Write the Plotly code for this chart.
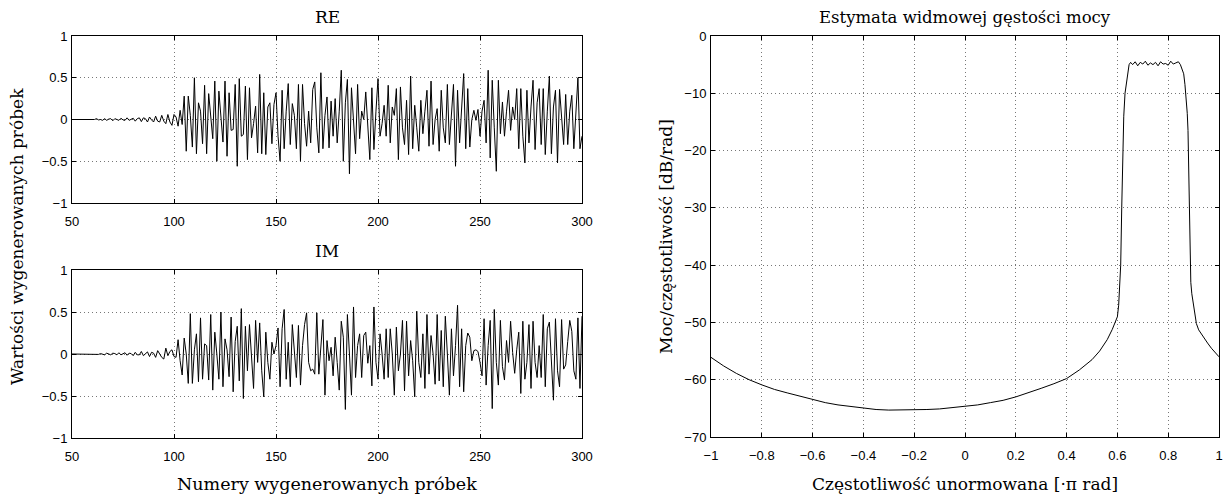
import plotly.graph_objects as go

# ---------------- data ----------------
sample_start = 50
re_values = [
    0, 0, 0, 0, 0, 0, 0, 0, 0, 0,
    0, 0, 0.01, -0.005, 0, -0.01, 0.01, -0.01, 0.005, 0.01,
    -0.015, 0.01, 0, -0.01, 0.015, -0.005, -0.01, 0.02, -0.01, 0,
    0.015, -0.02, 0.01, 0.02, -0.025, 0.02, 0.01, -0.03, 0.03, -0.005,
    -0.03, 0.04, -0.02, -0.03, 0.05, -0.02, -0.05, 0.06, -0.03, -0.07,
    0.06, 0.03, -0.08, 0.11, -0.06, 0.28, -0.38, 0.28, 0.05, -0.33,
    0.5, -0.41, 0.2, 0.1, -0.29, 0.41, -0.41, 0.31, 0.0, -0.23,
    0.46, -0.5, 0.34, 0.02, -0.27, 0.46, -0.44, 0.32, -0.13, -0.12,
    0.42, -0.56, 0.49, -0.2, -0.18, 0.4, -0.48, 0.38, -0.22, -0.05,
    0.16, -0.4, 0.54, -0.41, 0.32, -0.42, 0.15, 0.2, -0.29, 0.18,
    0.32, -0.2, -0.5, 0.35, -0.35, 0.1, 0.43, -0.3, 0.19, 0.05,
    -0.35, 0.42, -0.5, 0.42, -0.05, -0.32, 0.1, -0.28, 0.36, 0.45,
    -0.1, -0.4, 0.56, -0.35, 0.05, 0.27, -0.34, 0.22, -0.2, 0.25,
    -0.28, 0.1, 0.59, -0.5, 0.2, 0.48, -0.65, 0.38, 0.0, -0.41,
    0.42, -0.23, 0.1, 0.0, 0.33, -0.1, -0.48, 0.38, -0.36, 0.1,
    0.49, -0.2, -0.05, 0.17, -0.2, 0.41, -0.28, 0.15, 0.05, 0.37,
    -0.48, 0.39, -0.1, -0.3, 0.23, -0.42, 0.52, -0.35, 0.17, -0.1,
    -0.38, 0.23, -0.17, 0.1, 0.35, -0.32, 0.46, -0.3, 0.0, 0.13,
    -0.38, 0.35, -0.1, -0.28, 0.42, -0.3, 0.1, 0.42, -0.56, 0.35,
    -0.28, 0.2, 0.55, -0.35, 0.37, -0.33, 0.0, 0.11, -0.01, 0.12,
    -0.2, 0.1, 0.23, -0.28, 0.59, -0.46, 0.47, -0.1, -0.62, 0.47,
    -0.17, 0.21, -0.2, 0.1, 0.35, -0.13, 0.15, 0.0, 0.37, -0.35,
    0.37, -0.2, -0.52, 0.35, -0.28, 0.15, 0.47, -0.36, 0.2, 0.37,
    -0.3, 0.37, -0.42, 0.1, 0.52, -0.41, 0.15, 0.35, -0.52, 0.36,
    0.0, -0.3, 0.3, -0.3, 0.1, 0.29, -0.35, 0.1, 0.5, -0.35,
    -0.2,
]
im_values = [
    0, 0, 0, 0, 0, 0, 0, 0, 0, 0,
    0, 0, 0, -0.005, 0.005, 0, -0.01, 0.01, 0, -0.01,
    0.01, 0.005, -0.01, 0.015, -0.01, 0, 0.015, -0.015, 0.01, 0.005,
    -0.02, 0.02, -0.01, -0.01, 0.03, -0.02, 0.005, 0.025, -0.03, 0.02,
    0.01, -0.04, 0.04, 0, -0.04, -0.06, 0.07, -0.02, 0.03, 0.05,
    -0.03, -0.04, 0.17, -0.08, -0.25, 0.19, 0.0, -0.35, 0.48, -0.35,
    0.05, 0.24, -0.33, 0.43, -0.3, 0.12, 0.1, -0.31, 0.47, -0.43,
    0.26, 0.0, -0.3, 0.5, -0.39, 0.18, 0.05, -0.27, 0.44, -0.45,
    0.15, 0.33, -0.32, 0.54, -0.53, 0.33, -0.2, 0.35, 0.0, -0.41,
    0.4, -0.1, 0.37, -0.2, -0.51, 0.26, -0.1, -0.3, 0.14, 0.0,
    0.1, 0.31, -0.39, 0.3, 0.53, -0.3, 0.14, -0.39, 0.35, 0.0,
    -0.28, 0.34, -0.37, 0.1, 0.35, 0.49, -0.1, -0.2, -0.18, -0.24,
    0.49, -0.24, 0.1, 0.41, -0.49, 0.16, -0.08, 0.08, -0.26, 0.2,
    -0.1, -0.43, 0.39, 0.2, -0.66, 0.47, 0.0, -0.49, 0.56, -0.28,
    0.1, 0.24, -0.28, 0.22, 0.26, -0.11, 0.1, -0.38, 0.56, -0.1,
    -0.3, 0.24, 0.0, -0.3, 0.3, -0.28, 0.3, 0.0, -0.49, 0.32,
    -0.2, 0.0, 0.4, -0.44, 0.39, -0.26, 0.16, -0.08, -0.51, 0.51,
    -0.1, -0.28, 0.24, -0.41, 0.47, -0.24, 0.22, 0.0, -0.36, 0.47,
    -0.32, 0.28, -0.39, 0.45, 0.0, -0.49, 0.3, -0.26, 0.1, 0.58,
    -0.39, 0.3, -0.45, 0.1, 0.25, 0.2, -0.08, 0.04, 0.05, 0.03,
    -0.1, -0.26, 0.42, -0.37, 0.1, 0.4, -0.65, 0.53, -0.1, -0.37,
    0.4, -0.15, -0.31, 0.16, -0.1, 0.39, 0.02, -0.23, 0.05, 0.26,
    -0.47, 0.39, -0.3, -0.1, 0.35, -0.41, 0.39, -0.1, -0.28, 0.1,
    -0.28, 0.47, -0.39, 0.3, 0.38, -0.1, -0.55, 0.42, -0.2, -0.39,
    0.41, -0.18, -0.13, 0.15, 0.4, 0.27, -0.2, -0.3, 0.43, -0.41,
    0.45,
]
samples = list(range(sample_start, sample_start + len(re_values)))

psd_freq = [
    -1.0, -0.95, -0.9, -0.85, -0.8, -0.75, -0.7, -0.65, -0.6, -0.55,
    -0.5, -0.45, -0.4, -0.35, -0.3, -0.25, -0.2, -0.15, -0.1, -0.05,
    0.0, 0.05, 0.1, 0.15, 0.2, 0.25, 0.3, 0.35, 0.4, 0.45,
    0.5, 0.53, 0.56, 0.58, 0.59, 0.6, 0.605, 0.609, 0.613, 0.617,
    0.621, 0.625, 0.63, 0.638, 0.646, 0.652,
    0.66, 0.67, 0.68, 0.69, 0.70, 0.71, 0.72, 0.73, 0.74, 0.75,
    0.76, 0.77, 0.78, 0.79, 0.80, 0.81, 0.82, 0.83, 0.84, 0.848,
    0.855, 0.861, 0.866, 0.871, 0.875, 0.878, 0.882, 0.885, 0.889, 0.893,
    0.898, 0.905, 0.911, 0.92, 0.937, 0.955, 0.97, 0.985, 1.0,
]
psd_db = [
    -56.1, -57.6, -58.9, -60.0, -60.9, -61.7, -62.3, -62.9, -63.5, -64.0,
    -64.4, -64.7, -65.0, -65.2, -65.3, -65.3, -65.3, -65.2, -65.1, -64.9,
    -64.7, -64.4, -64.0, -63.6, -63.0, -62.3, -61.5, -60.7, -59.8, -58.3,
    -56.5, -55.0, -53.0, -51.2, -50.0, -49.0, -47.0, -44.0, -40.0, -30.0,
    -20.0, -14.0, -10.0, -7.5, -5.0, -4.6,
    -5.0, -4.5, -5.2, -4.6, -4.9, -4.4, -5.1, -4.7, -5.0, -4.6,
    -5.2, -4.5, -4.9, -4.8, -5.1, -4.4, -4.9, -4.7, -4.5, -5.0,
    -5.8, -6.6, -8.5, -10.6, -13.5, -16.5, -26.0, -34.0, -43.0, -45.0,
    -46.7, -48.8, -50.2, -51.3, -52.5, -53.6, -54.5, -55.3, -56.0,
]

re_ticks = [50, 100, 150, 200, 250, 300]
amp_ticks = [-1, -0.5, 0, 0.5, 1]
amp_ticktext = ["\u22121", "\u22120.5", "0", "0.5", "1"]
freq_ticks = [-1, -0.8, -0.6, -0.4, -0.2, 0, 0.2, 0.4, 0.6, 0.8, 1]
freq_ticktext = ["\u22121", "\u22120.8", "\u22120.6", "\u22120.4", "\u22120.2",
                 "0", "0.2", "0.4", "0.6", "0.8", "1"]
db_ticks = [0, -10, -20, -30, -40, -50, -60, -70]
db_ticktext = ["0", "\u221210", "\u221220", "\u221230", "\u221240", "\u221250", "\u221260", "\u221270"]

# ---------------- figure ----------------
W, H = 1226, 499
fig = go.Figure()

line_style = dict(color="black", width=1)
fig.add_trace(go.Scatter(x=samples, y=re_values, mode="lines", line=line_style,
                         xaxis="x", yaxis="y", showlegend=False))
fig.add_trace(go.Scatter(x=samples, y=im_values, mode="lines", line=line_style,
                         xaxis="x2", yaxis="y2", showlegend=False))
fig.add_trace(go.Scatter(x=psd_freq, y=psd_db, mode="lines", line=line_style,
                         xaxis="x3", yaxis="y3", showlegend=False))

tick_font = dict(family="Liberation Sans, Arial, sans-serif", size=13, color="black")
serif = "DejaVu Serif, serif"


def ax(domain, rng, tickvals, ticktext, anchor, standoff):
    return dict(
        domain=domain, range=rng, tickvals=tickvals, ticktext=ticktext,
        anchor=anchor, showline=True, linecolor="black", linewidth=1,
        mirror="ticks", ticks="inside", ticklen=4, tickcolor="black",
        showgrid=True, gridcolor="#777777", griddash="1px,3px", gridwidth=1,
        zeroline=False, tickfont=tick_font, fixedrange=True, automargin=False,
        ticklabeloverflow="allow", ticklabelstandoff=standoff,
    )


def px_x(p):
    return p / W


def px_y(p):
    return 1 - p / H


fig.update_layout(
    width=W, height=H,
    margin=dict(l=0, r=0, t=0, b=0, autoexpand=False),
    paper_bgcolor="white", plot_bgcolor="white",
    xaxis=ax([px_x(72), px_x(582)], [50, 300], re_ticks, [str(t) for t in re_ticks], "y", 6),
    yaxis=ax([px_y(203), px_y(36)], [-1, 1], amp_ticks, amp_ticktext, "x", 1),
    xaxis2=ax([px_x(72), px_x(582)], [50, 300], re_ticks, [str(t) for t in re_ticks], "y2", 6),
    yaxis2=ax([px_y(438), px_y(270)], [-1, 1], amp_ticks, amp_ticktext, "x2", 1),
    xaxis3=ax([px_x(711), px_x(1219)], [-1, 1], freq_ticks, freq_ticktext, "y3", 6),
    yaxis3=ax([px_y(437), px_y(36)], [-70, 0], db_ticks, db_ticktext, "x3", 1),
)

ann = []


def text(x, y, s, size=16, angle=0):
    ann.append(dict(x=px_x(x), y=px_y(y), xref="paper", yref="paper", text=s,
                    showarrow=False, textangle=angle, xanchor="center", yanchor="middle",
                    font=dict(family=serif, size=size, color="black")))


text(327, 17, "RE", 17)
text(327, 251, "IM", 17)
text(965, 17, "Estymata widmowej gęstości mocy", 16.5)
text(327, 484, "Numery wygenerowanych próbek", 17.5)
text(965, 484, "Częstotliwość unormowana [·π rad]", 17)
text(17, 237, "Wartości wygenerowanych próbek", 17, -90)
text(666, 237, "Moc/częstotliwość [dB/rad]", 17, -90)
fig.update_layout(annotations=ann)

# remove the default 8 px page margin so the figure fills the window exactly
fig.write_html(
    "out.html",
    config={"displayModeBar": False, "staticPlot": True},
    post_script="document.body.style.margin='0';document.body.style.overflow='hidden';",
)
